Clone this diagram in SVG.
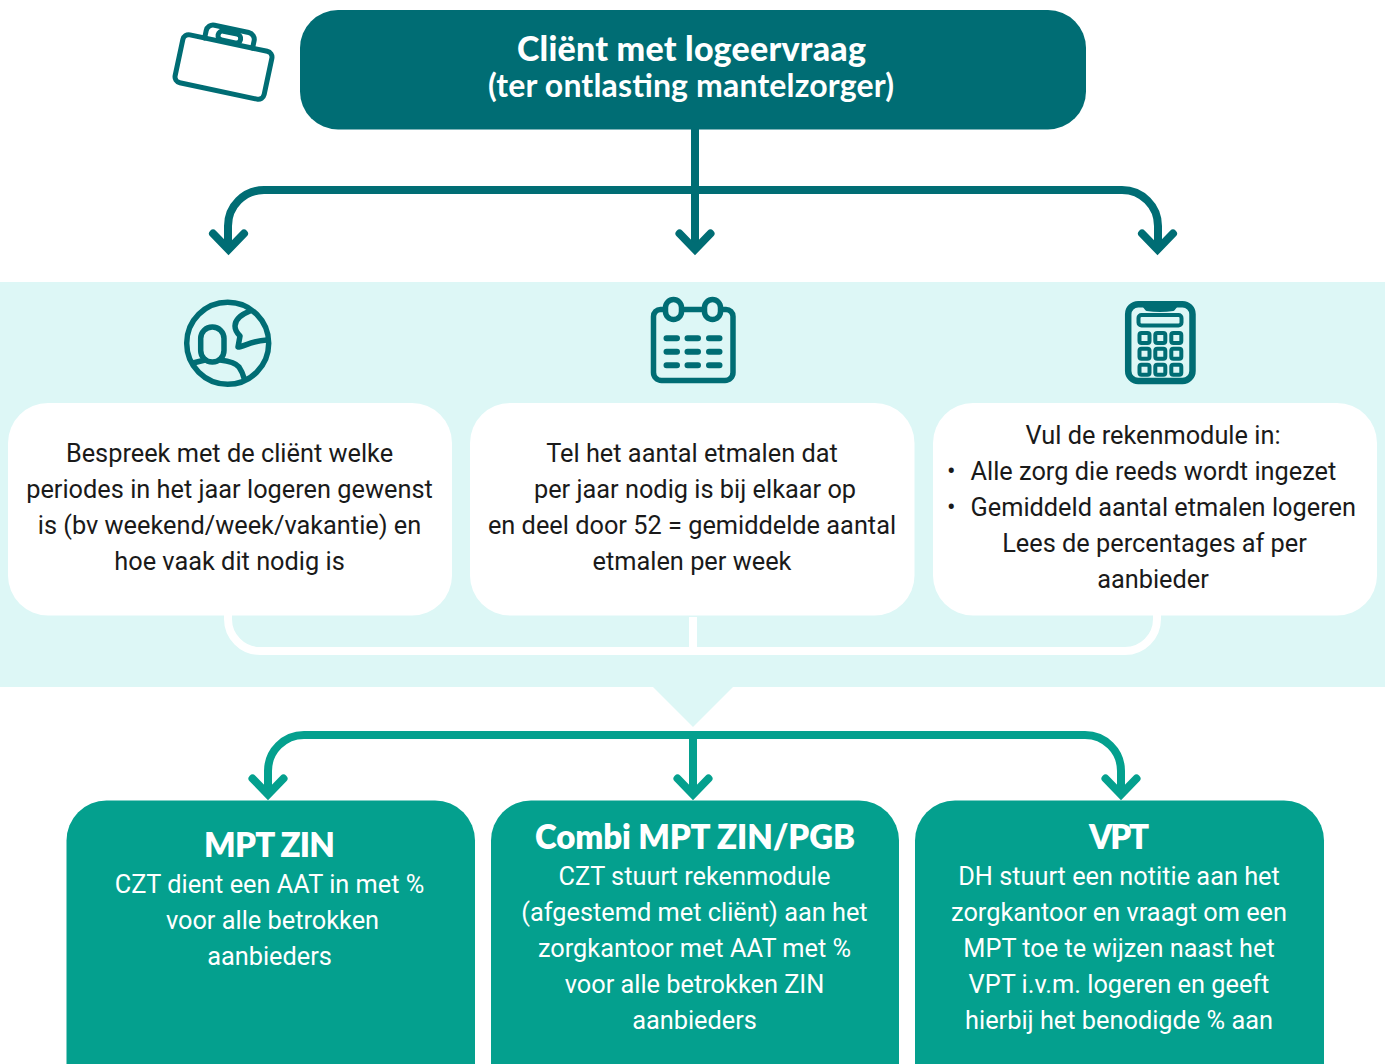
<svg xmlns="http://www.w3.org/2000/svg" width="1385" height="1064" viewBox="0 0 1385 1064">
<style>
text{font-family:Roboto,"Liberation Sans",sans-serif}
.t{font-size:25.33px;text-anchor:middle;fill:#1a1a1a}
.l{font-size:25.33px;fill:#1a1a1a}
.w{font-size:25.33px;text-anchor:middle;fill:#fff}
text.h{font-family:Lato,"Open Sans",sans-serif;font-size:33px;font-weight:800;text-anchor:middle;fill:#fff}
.dk{fill:none;stroke:#006d74;stroke-width:5;stroke-linecap:round;stroke-linejoin:round}
.arrow1{fill:none;stroke:#006d74;stroke-width:8;stroke-linecap:round;stroke-linejoin:miter}
.arrow2{fill:none;stroke:#04a08e;stroke-width:8;stroke-linecap:round;stroke-linejoin:miter}
.card{fill:#fff}
.grn{fill:#04a08e}
</style>
<rect x="0" y="282" width="1385" height="405" fill="#ddf7f6"/>
<path d="M653 687H733L693 727Z" fill="#ddf7f6"/>
<g id="connectors">
<path class="arrow1" style="stroke-linecap:butt" d="M695 129V249M228 249V226A36 36 0 0 1 264 190H1122A36 36 0 0 1 1158 226V249"/>
<path class="arrow1" d="M213 233.500L228.500 249.500L244 233.500M679.500 233.500L695 249.500L710.500 233.500M1142 233.500L1157.500 249.500L1173 233.500"/>
<path fill="none" stroke="#fff" stroke-width="8" d="M228 615V619A32 32 0 0 0 260 651H1125A32 32 0 0 0 1157 619V615M693 617V651"/>
<path class="arrow2" style="stroke-linecap:butt" d="M693 735V794M268 794V771A36 36 0 0 1 304 735H1085A36 36 0 0 1 1121 771V794"/>
<path class="arrow2" d="M252.500 778.500L268 794.500L283.500 778.500M677.500 778.500L693 794.500L708.500 778.500M1105.500 778.500L1121 794.500L1136.500 778.500"/>
</g>
<g id="node-top">
<rect x="300" y="10" width="786" height="119.500" rx="38" fill="#006d74"/>
<text class="h" x="691.500" y="61" style="font-size:34px;font-weight:900" textLength="349">Cliënt met logeervraag</text>
<text class="h" x="691" y="97" style="font-size:32px;font-weight:700" textLength="406">(ter ontlasting mantelzorger)</text>
</g>
<g id="icon-case">
<g class="dk" transform="rotate(12 223.500 67)">
<rect x="178" y="42.500" width="91" height="49" rx="6"/>
<path d="M199 42.500V35A7 7 0 0 1 206 28H241A7 7 0 0 1 248 35V42.500"/>
<rect x="211.500" y="32" width="23" height="9" rx="4.500"/>
</g>
</g>
<g id="icon-people">
<g class="dk" style="stroke-width:5.500">
<circle cx="227.700" cy="343.300" r="41"/>
<rect x="200.700" y="327" width="23.300" height="35" rx="11.500"/>
<path d="M193 363L205 360M220 360C229 361 236 363 239 367C241 370 243 374 244 378"/>
<path d="M250 311C240 315 235 320 235 326C235 331 238 334 240 336L238 347C244 347 250 341 267 340"/>
</g>
</g>
<g id="icon-calendar">
<g class="dk" style="stroke-width:5.500">
<path d="M665 309.500H660.500A7 7 0 0 0 653.500 316.500V372.500A8 8 0 0 0 661.500 380.500H725A8 8 0 0 0 733 372.500V316.500A7 7 0 0 0 726 309.500H721M683 309.500H703"/>
<path d="M665.500 307.500A8 8 0 0 1 681.500 307.500V311.500A8 8 0 0 1 665.500 311.500ZM704.500 307.500A8 8 0 0 1 720.500 307.500V311.500A8 8 0 0 1 704.500 311.500Z"/>
<path style="stroke-width:6" d="M666.500 338.300H677M687.500 338.300H698M709 338.300H719.500M666.500 351.700H677M687.500 351.700H698M709 351.700H719.500M666.500 365.300H677M687.500 365.300H698M709 365.300H719.500"/>
</g>
</g>
<g id="icon-calc">
<g class="dk" style="stroke-width:4">
<rect x="1128.200" y="304.200" width="64.300" height="76.800" rx="10" style="stroke-width:6.500"/>
<path d="M1143 304H1177L1173 309Q1160 311 1147 309Z" fill="#006d74"/>
<rect x="1138.500" y="315" width="43" height="10.500" rx="3"/>
<rect x="1139.500" y="333" width="10" height="10" rx="2"/><rect x="1155.300" y="333" width="10" height="10" rx="2"/><rect x="1171.300" y="333" width="10" height="10" rx="2"/>
<rect x="1139.500" y="348.700" width="10" height="10" rx="2"/><rect x="1155.300" y="348.700" width="10" height="10" rx="2"/><rect x="1171.300" y="348.700" width="10" height="10" rx="2"/>
<rect x="1139.500" y="364.700" width="10" height="10" rx="2"/><rect x="1155.300" y="364.700" width="10" height="10" rx="2"/><rect x="1171.300" y="364.700" width="10" height="10" rx="2"/>
</g>
</g>
<g id="node-c1">
<rect class="card" x="8" y="403" width="444" height="212.500" rx="40"/>
<text class="t" x="229.500" y="462">Bespreek met de cliënt welke</text>
<text class="t" x="229.500" y="498">periodes in het jaar logeren gewenst</text>
<text class="t" x="229.500" y="534">is (bv weekend/week/vakantie) en</text>
<text class="t" x="229.500" y="570">hoe vaak dit nodig is</text>
</g>
<g id="node-c2">
<rect class="card" x="470" y="403" width="444.500" height="212.500" rx="40"/>
<text class="t" x="692" y="462">Tel het aantal etmalen dat</text>
<text class="t" x="695" y="498">per jaar nodig is bij elkaar op</text>
<text class="t" x="692" y="534">en deel door 52 = gemiddelde aantal</text>
<text class="t" x="692" y="570">etmalen per week</text>
</g>
<g id="node-c3">
<rect class="card" x="933" y="403" width="444" height="212.500" rx="40"/>
<text class="t" x="1153" y="444">Vul de rekenmodule in:</text>
<text class="l" x="947" y="480">•</text><text class="l" x="970.500" y="480">Alle zorg die reeds wordt ingezet</text>
<text class="l" x="947" y="516">•</text><text class="l" x="970.500" y="516">Gemiddeld aantal etmalen logeren</text>
<text class="t" x="1154.500" y="552">Lees de percentages af per</text>
<text class="t" x="1153" y="588">aanbieder</text>
</g>
<g id="node-b1">
<rect class="grn" x="66.500" y="800.500" width="408.500" height="304" rx="40"/>
<text class="h" x="269.500" y="857" textLength="131">MPT ZIN</text>
<text class="w" x="269.500" y="892.500">CZT dient een AAT in met %</text>
<text class="w" x="272.500" y="928.500">voor alle betrokken</text>
<text class="w" x="269.500" y="964.500">aanbieders</text>
</g>
<g id="node-b2">
<rect class="grn" x="491" y="800.500" width="408" height="304" rx="40"/>
<text class="h" x="695" y="848.500" textLength="320">Combi MPT ZIN/PGB</text>
<text class="w" x="694.500" y="884.500">CZT stuurt rekenmodule</text>
<text class="w" x="694.500" y="920.500">(afgestemd met cliënt) aan het</text>
<text class="w" x="694.500" y="956.500">zorgkantoor met AAT met %</text>
<text class="w" x="694.500" y="992.500">voor alle betrokken ZIN</text>
<text class="w" x="694.500" y="1028.500">aanbieders</text>
</g>
<g id="node-b3">
<rect class="grn" x="915" y="800.500" width="409" height="304" rx="40"/>
<text class="h" x="1119" y="848.500" textLength="60">VPT</text>
<text class="w" x="1119" y="884.500">DH stuurt een notitie aan het</text>
<text class="w" x="1119" y="920.500">zorgkantoor en vraagt om een</text>
<text class="w" x="1119" y="956.500">MPT toe te wijzen naast het</text>
<text class="w" x="1119" y="992.500">VPT i.v.m. logeren en geeft</text>
<text class="w" x="1119" y="1028.500">hierbij het benodigde % aan</text>
</g>
</svg>
